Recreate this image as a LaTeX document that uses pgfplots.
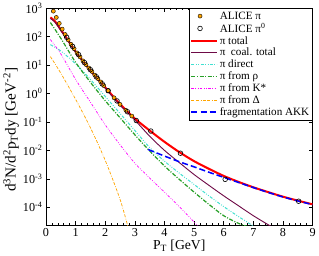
\documentclass[border=0pt]{standalone}
\usepackage{fontspec}
\setmainfont{Liberation Serif}
\usepackage{pgfplots}
\pgfplotsset{compat=1.18}
\definecolor{cred}{RGB}{255,0,0}
\definecolor{cmaroon}{RGB}{110,10,70}
\definecolor{ccyan}{RGB}{64,224,208}
\definecolor{cgreen}{RGB}{40,160,40}
\definecolor{cmag}{RGB}{255,0,255}
\definecolor{corange}{RGB}{255,165,0}
\definecolor{cblue}{RGB}{0,0,255}
\pgfplotsset{
  linelegend/.style={legend image code/.code={\draw[##1] (0pt,0pt) -- (25pt,0pt);}},
}
\begin{document}
\begin{tikzpicture}
\begin{axis}[
  scale only axis, width=263pt, height=214pt,
  ymode=log, log basis y=10,
  xmin=0, xmax=9, ymin=2.3e-5, ymax=1e3,
  xtick={0,1,2,3,4,5,6,7,8,9}, xticklabels={0,1,2,3,4,5,6,7,8,9},
  minor x tick num=4,
  ytickten={-4,-3,-2,-1,0,1,2,3},
  yticklabel={10\textsuperscript{\pgfmathparse{int(round(\tick))}\pgfmathresult}},
  tick align=inside, major tick length=4pt, minor tick length=2pt,
  every tick/.style={black, line width=0.5pt},
  xtick pos=both, ytick pos=both,
  xticklabel pos=lower, yticklabel pos=left,
  tick label style={font=\fontsize{12}{12}\selectfont},
  xlabel={P\textsubscript{T} [GeV]},
  ylabel={d\textsuperscript{3}N/d\textsuperscript{2}p\textsubscript{T}dy\ [GeV\textsuperscript{-2}]},
  xlabel style={font=\fontsize{13.5}{13.5}\selectfont, yshift=4pt},
  ylabel style={font=\fontsize{15}{15}\selectfont, at={(ticklabel cs:0.44)}, yshift=-3pt},
  axis line style={line width=0.8pt},
  legend style={at={(1,1)}, anchor=north east, font=\fontsize{11}{12}\selectfont,
    draw=black, line width=0.5pt, inner sep=1pt, row sep=-1.5pt, cells={anchor=west}},
  legend cell align=left,
]
% ALICE pi (orange filled)
\addplot[only marks, mark=*, mark size=2pt, mark options={fill=corange, draw=black, line width=0.4pt}] coordinates {
(0.25,794) (0.35,479) (0.45,295) (0.55,186) (0.65,120) (0.75,77.6) (0.85,53.7) (0.95,38.0)
(1.05,26.9) (1.15,19.5) (1.25,14.1) (1.35,10.5) (1.45,7.94) (1.55,6.03) (1.65,4.47) (1.75,3.39)
(1.85,2.57) (1.95,1.91) (2.1,1.26) (2.3,0.708) (2.5,0.417) (2.7,0.257) (2.9,0.162)
};
\addlegendentry{ALICE π}
% ALICE pi0 (open)
\addplot[only marks, mark=o, mark size=2.3pt, mark options={draw=black, line width=0.6pt}] coordinates {
(0.7,95.5) (0.9,45.7) (1.1,23.4) (1.3,12.3) (1.5,6.92) (1.7,3.89) (1.9,2.19) (2.1,1.26)
(2.4,0.55) (2.75,0.229) (3.05,0.112) (3.54,0.0479) (4.54,7.94e-3) (6.05,9.55e-4) (8.53,1.62e-4)
};
\addlegendentry{ALICE π\textsuperscript{0}}
% pi total
\addplot[cred, line width=2pt, smooth, linelegend] coordinates {
(0.15,479) (0.3,355) (0.5,178) (0.75,74.1) (1.0,30.2) (1.5,6.61) (2.0,1.66) (2.5,0.427)
(3.0,0.132) (3.5,0.0501) (4.0,0.0200) (4.5,8.71e-3) (5.0,4.17e-3) (5.5,2.24e-3) (6.0,1.26e-3)
(6.5,7.76e-4) (7.0,5.01e-4) (7.5,3.39e-4) (8.0,2.34e-4) (8.5,1.70e-4) (9.0,1.26e-4)
};
\addlegendentry{π total}
% coal total
\addplot[cmaroon, line width=0.9pt, smooth, linelegend] coordinates {
(0.15,437) (0.3,331) (0.5,166) (0.75,69.2) (1.0,28.2) (1.5,6.17) (2.0,1.55) (2.5,0.389)
(3.0,0.117) (3.5,0.0316) (4.0,0.0100) (4.5,3.72e-3) (5.0,1.41e-3) (5.5,5.89e-4) (6.0,2.51e-4)
(6.5,1.12e-4) (7.0,5.01e-5) (7.6,2.09e-5)
};
\addlegendentry{π\ \ coal. total}
% direct
\addplot[ccyan, line width=1pt, smooth, dash pattern=on 3pt off 1.5pt on 0.8pt off 1.5pt on 0.8pt off 1.5pt, linelegend] coordinates {
(0.15,52.5) (0.5,31.6) (1.0,11.2) (1.5,3.16) (2.0,0.794) (2.5,0.2) (3.0,0.0501) (3.5,0.0126)
(4.0,4.17e-3) (4.5,1.58e-3) (5.0,6.31e-4) (5.5,2.51e-4) (6.0,1.05e-4) (6.5,4.68e-5) (7.05,2.0e-5)
};
\addlegendentry{π direct}
% from rho
\addplot[cgreen, line width=1.2pt, smooth, dash pattern=on 4pt off 1.5pt on 1pt off 1.5pt, linelegend] coordinates {
(0.15,316) (0.5,89.1) (1.0,12.6) (1.5,2.51) (2.0,0.562) (2.5,0.141) (3.0,0.0355) (3.5,9.55e-3)
(4.0,2.82e-3) (4.5,9.55e-4) (5.0,3.39e-4) (5.5,1.26e-4) (6.0,5.01e-5) (6.5,2.69e-5) (6.85,2.0e-5)
};
\addlegendentry{π from ρ}
% from K*
\addplot[cmag, line width=0.7pt, smooth, dash pattern=on 2.5pt off 1.5pt on 0.7pt off 1.5pt on 0.7pt off 1.5pt, linelegend] coordinates {
(0.15,79.4) (0.5,25.1) (1.0,3.16) (1.5,0.501) (2.0,0.0794) (2.5,0.0158) (3.0,3.55e-3)
(3.5,1.07e-3) (4.0,3.39e-4) (4.5,1.05e-4) (5.0,3.02e-5) (5.15,2.0e-5)
};
\addlegendentry{π from K*}
% from Delta
\addplot[corange, line width=0.7pt, smooth, dash pattern=on 3pt off 1.5pt on 3pt off 1.5pt on 0.7pt off 1.5pt, linelegend] coordinates {
(0.15,20) (0.5,5.25) (1.0,0.631) (1.5,0.0631) (2.0,4.47e-3) (2.5,1.91e-4) (2.77,2.0e-5)
};
\addlegendentry{π from Δ}
% fragmentation
\addplot[cblue, line width=1.5pt, smooth, dash pattern=on 6pt off 3pt, linelegend] coordinates {
(3.45,0.0107) (4.0,6.31e-3) (4.5,3.98e-3) (5.0,2.63e-3) (5.5,1.70e-3) (6.0,1.12e-3)
(6.5,7.41e-4) (7.0,4.90e-4) (7.5,3.31e-4) (8.0,2.29e-4) (8.5,1.66e-4) (9.0,1.23e-4)
};
\addlegendentry{fragmentation AKK}
\end{axis}
\end{tikzpicture}
\end{document}
